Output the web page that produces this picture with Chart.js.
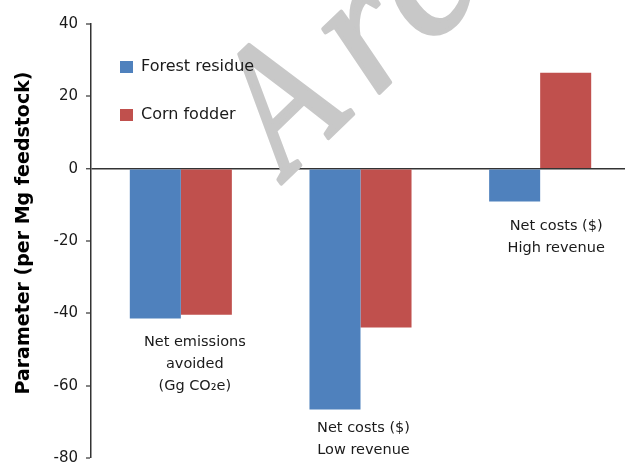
<!DOCTYPE html>
<html>
<head>
<meta charset="utf-8">
<script src="https://cdn.jsdelivr.net/npm/chart.js@4/dist/chart.umd.min.js"></script>
<style>
  html, body { margin: 0; padding: 0; background: #fff; overflow: hidden; }
  #wrap { width: 625px; height: 467px; overflow: hidden; position: relative; }
  canvas { display: block; }
</style>
</head>
<body>
<div id="wrap"><canvas id="chart" width="630" height="475" style="width:630px;height:475px"></canvas></div>
<script>
// Category labels (multi-line), series and axis ticks
const categories = [
  ['Net emissions', 'avoided', '(Gg CO\u2082e)'],
  ['Net costs ($)', 'Low revenue'],
  ['Net costs ($)', 'High revenue']
];
const seriesNames = ['Forest residue', 'Corn fodder'];
const forestResidue = [-41.4, -66.6, -9.1];
const cornFodder = [-40.4, -43.9, 26.5];
const yTicks = [40, 20, 0, -20, -40, -60, -80];
const yTitle = 'Parameter (per Mg feedstock)';
const watermarkLetters = ['A', 'r', 'c'];

const FONT = '"DejaVu Sans", "Open Sans", sans-serif';
const BLUE = '#4F81BD';
const RED = '#C0504D';
const INK = '#1a1a1a';

// Faint diagonal watermark behind the bars, one glyph at a time
const watermark = {
  id: 'watermark',
  beforeDatasetsDraw(chart, args, opts) {
    const ctx = chart.ctx;
    ctx.save();
    ctx.font = 'italic 185px "Liberation Serif", serif';
    ctx.fillStyle = '#c8c8c8';
    ctx.strokeStyle = '#c8c8c8';
    ctx.lineWidth = 4;
    ctx.lineJoin = 'round';
    ctx.textBaseline = 'alphabetic';
    watermarkLetters.forEach((ch, i) => {
      const [x, y] = opts.origins[i];
      ctx.save();
      ctx.translate(x, y);
      ctx.rotate(opts.angle * Math.PI / 180);
      ctx.scale(opts.squeeze[i], 1);
      ctx.fillText(ch, 0, 0);
      ctx.strokeText(ch, 0, 0);
      ctx.restore();
    });
    ctx.restore();
  }
};

// Category captions placed just below the lowest bar of each group
const groupCaptions = {
  id: 'groupCaptions',
  afterDatasetsDraw(chart, args, opts) {
    const ctx = chart.ctx;
    const xs = chart.scales.x, ys = chart.scales.y;
    ctx.save();
    ctx.font = '14.5px ' + FONT;
    ctx.fillStyle = INK;
    ctx.textAlign = 'center';
    ctx.textBaseline = 'middle';
    categories.forEach((lines, i) => {
      const low = Math.min(0, ...chart.data.datasets.map(d => d.data[i]));
      const x = xs.getPixelForValue(i) + opts.dx[i];
      const y0 = ys.getPixelForValue(low) + opts.dy[i];
      lines.forEach((t, k) => ctx.fillText(t, x, y0 + k * opts.lineHeight));
    });
    ctx.restore();
  }
};

// Legend drawn inside the plot, upper left
const innerLegend = {
  id: 'innerLegend',
  afterDraw(chart, args, opts) {
    const ctx = chart.ctx;
    const a = chart.chartArea;
    ctx.save();
    ctx.font = '16px ' + FONT;
    ctx.textBaseline = 'middle';
    chart.data.datasets.forEach((ds, i) => {
      const cy = a.top + opts.top + i * opts.gap;
      const x = a.left + opts.left;
      ctx.fillStyle = ds.backgroundColor;
      ctx.fillRect(x, cy - 6, 13, 12);
      ctx.fillStyle = INK;
      ctx.fillText(ds.label, x + 21, cy);
    });
    ctx.restore();
  }
};

// Rotated y-axis title
const yAxisTitle = {
  id: 'yAxisTitle',
  afterDraw(chart, args, opts) {
    const ctx = chart.ctx;
    ctx.save();
    ctx.translate(opts.x, opts.y);
    ctx.rotate(-Math.PI / 2);
    ctx.font = 'bold 19px ' + FONT;
    ctx.fillStyle = '#000';
    ctx.textAlign = 'center';
    ctx.textBaseline = 'middle';
    ctx.fillText(yTitle, 0, 0);
    ctx.restore();
  }
};

new Chart(document.getElementById('chart'), {
  type: 'bar',
  data: {
    labels: categories.map(c => c.join(' ')),
    datasets: [
      { label: seriesNames[0], data: forestResidue, backgroundColor: BLUE, borderWidth: 0 },
      { label: seriesNames[1], data: cornFodder, backgroundColor: RED, borderWidth: 0 }
    ]
  },
  options: {
    responsive: false,
    animation: false,
    devicePixelRatio: 1,
    layout: { padding: { top: 24, bottom: 11, left: 0, right: 0 } },
    datasets: { bar: { categoryPercentage: 0.568, barPercentage: 1 } },
    plugins: {
      legend: { display: false },
      tooltip: { enabled: false },
      watermark: { angle: -44, origins: [[287, 178], [374, 98], [428, 48]], squeeze: [0.82, 1, 1] },
      groupCaptions: { dx: [14, 3, 16], dy: [24, 19, 25], lineHeight: 21.7 },
      innerLegend: { left: 29, top: 43, gap: 48 },
      yAxisTitle: { x: 24, y: 233 }
    },
    scales: {
      x: { display: false },
      y: {
        min: -80,
        max: 40,
        afterFit(scale) { scale.width = 91; },
        afterBuildTicks(scale) { scale.ticks = yTicks.map(v => ({ value: v })); },
        border: { display: true, color: '#333', width: 1.5 },
        grid: {
          drawOnChartArea: true,
          color: c => (c.tick && c.tick.value === 0 ? '#333' : 'rgba(0,0,0,0)'),
          lineWidth: c => (c.tick && c.tick.value === 0 ? 1.5 : 0),
          tickColor: '#333',
          tickLength: 5,
          tickWidth: 1.2
        },
        ticks: {
          padding: 8,
          color: INK,
          font: { family: FONT, size: 15 }
        }
      }
    }
  },
  plugins: [watermark, groupCaptions, innerLegend, yAxisTitle]
});
</script>
</body>
</html>
